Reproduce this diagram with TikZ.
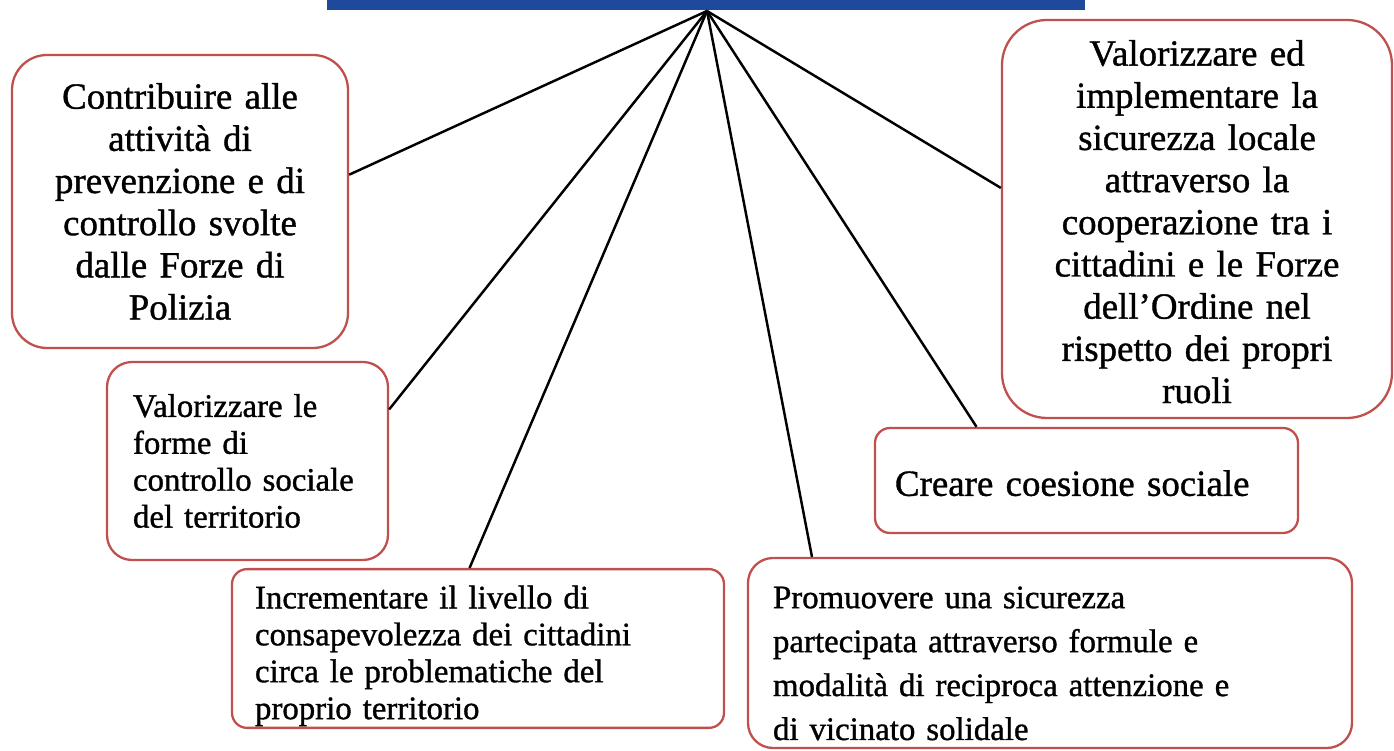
\documentclass[tikz,border=0pt]{standalone}
\usepackage{fontspec}
\setmainfont{Liberation Serif}[FakeBold=1]
\usepackage{xcolor}
\definecolor{barblue}{RGB}{31,73,155}
\definecolor{boxred}{RGB}{192,80,77}
\tikzset{goal/.style={draw=boxred,line width=1.3pt,rounded corners=#1,fill=white,inner ysep=1pt}}
\tikzset{goal/.default={0.5cm}}
\tikzset{link/.style={draw,line width=1.4pt,black}}
\tikzset{bigtext/.style={font={\fontsize{21pt}{24pt}\selectfont}}}
\tikzset{smalltext/.style={font={\fontsize{18.7pt}{21pt}\selectfont}}}

\begin{document}
\begin{tikzpicture}
    \useasboundingbox (0,0) rectangle (27.88,-15.02);
    \fill[barblue] (6.54,0) rectangle (21.70,-0.2);
    \coordinate (apex) at (14.14,-0.22);

    \node[goal=0.7cm, bigtext, align=center, text width=6.2cm, minimum width=6.72cm, minimum height=5.86cm] (contrib) at (3.60,-4.03)
        {Contribuire alle\\attività di\\prevenzione e di\\controllo svolte\\dalle Forze di\\Polizia};
    \node[goal=0.5cm, smalltext, align=left, inner xsep=0.52cm, text width=4.58cm, minimum height=3.96cm] (forme) at (4.95,-9.22)
        {Valorizzare le\\forme di\\controllo sociale\\del territorio};
    \node[goal=0.3cm, smalltext, align=left, inner xsep=0.46cm, text width=8.92cm, minimum height=3.14cm] (consap) at (9.56,-12.97)
        {\rule{0pt}{0.75cm}Incrementare il livello di\\consapevolezza dei cittadini\\circa le problematiche del\\proprio territorio};
    \node[goal=0.5cm, smalltext, align=left, inner xsep=0.5cm, text width=11.08cm, minimum height=3.8cm, font={\fontsize{18.7pt}{25pt}\selectfont}] (promuov) at (21.0,-13.06)
        {\rule{0pt}{0.85cm}Promuovere una sicurezza\\partecipata attraverso formule e\\modalità di reciproca attenzione e\\di vicinato solidale};
    \node[goal=0.3cm, bigtext, align=left, inner xsep=0.4cm, text width=7.66cm, minimum height=2.1cm] (coesione) at (21.73,-9.61)
        {\rule{0pt}{0.62cm}Creare coesione sociale};
    \node[goal=0.9cm, bigtext, align=center, text width=7.2cm, minimum width=7.8cm, minimum height=7.96cm] (coop) at (23.94,-4.38)
        {\rule{0pt}{0.62cm}Valorizzare ed\\implementare la\\sicurezza locale\\attraverso la\\cooperazione tra i\\cittadini e le Forze\\dell’Ordine nel\\rispetto dei propri\\ruoli};

    \foreach \n/\a in {contrib/9, forme/20, consap/96, promuov/158, coesione/154, coop/171}{
        \path[link] (apex) -- (\n.\a);
    }
\end{tikzpicture}
\end{document}
